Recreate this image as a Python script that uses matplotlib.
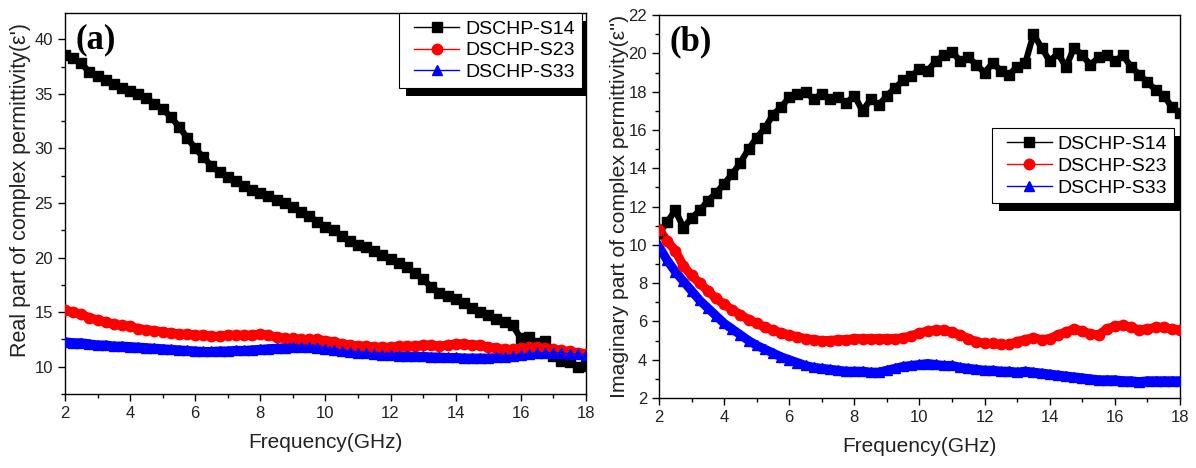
import numpy as np
import matplotlib
matplotlib.use("Agg")
import matplotlib.pyplot as plt
from matplotlib.patches import Rectangle
from matplotlib.lines import Line2D
from matplotlib.legend_handler import HandlerLine2D
from matplotlib.ticker import MultipleLocator

plt.rcParams["font.family"] = ["Liberation Sans", "DejaVu Sans"]

# frequency grid (GHz), 0.25 GHz step
freq = np.arange(2.0, 18.01, 0.25)

# (a) real part of permittivity
real_s14 = [38.6, 38.3, 37.8, 37.0, 36.6, 36.3, 35.9, 35.5, 35.3, 35.0, 34.6, 34.1, 33.6,
            32.9, 32.0, 31.0, 30.0, 29.2, 28.4, 27.8, 27.4, 27.0, 26.6, 26.2, 25.9, 25.6,
            25.3, 25.0, 24.6, 24.2, 23.8, 23.3, 22.8, 22.5, 22.0, 21.5, 21.2, 21.0, 20.6,
            20.2, 19.9, 19.5, 19.1, 18.6, 18.0, 17.3, 16.8, 16.5, 16.2, 15.8, 15.4, 15.0,
            14.7, 14.4, 14.1, 13.8, 12.6, 12.7, 12.2, 12.4, 11.0, 10.5, 10.4, 10.0, 10.1]
real_s23 = [15.2, 15.0, 14.8, 14.5, 14.3, 14.1, 13.9, 13.8, 13.7, 13.5, 13.4, 13.3, 13.2,
            13.1, 13.0, 13.0, 12.9, 12.9, 12.8, 12.8, 12.9, 12.9, 12.9, 12.9, 13.0, 12.9,
            12.7, 12.6, 12.6, 12.5, 12.5, 12.5, 12.4, 12.3, 12.1, 12.0, 11.9, 11.9, 11.8,
            11.8, 11.8, 11.9, 11.9, 11.9, 12.0, 12.0, 11.9, 12.0, 12.1, 12.1, 12.0, 12.0,
            11.8, 11.7, 11.6, 11.6, 11.7, 11.8, 11.8, 11.7, 11.6, 11.5, 11.4, 11.3, 11.2]
real_s33 = [12.3, 12.2, 12.2, 12.1, 12.0, 12.0, 11.9, 11.9, 11.85, 11.8, 11.75, 11.7, 11.65,
            11.6, 11.55, 11.5, 11.45, 11.4, 11.4, 11.45, 11.45, 11.5, 11.5, 11.55, 11.6,
            11.65, 11.7, 11.75, 11.8, 11.8, 11.8, 11.75, 11.65, 11.55, 11.45, 11.35, 11.3,
            11.25, 11.15, 11.1, 11.05, 11.0, 11.0, 10.95, 10.95, 10.9, 10.9, 10.85, 10.85,
            10.8, 10.8, 10.8, 10.8, 10.85, 10.9, 10.95, 11.05, 11.15, 11.25, 11.3, 11.3,
            11.25, 11.2, 11.15, 11.1]

# (b) imaginary part of permittivity
imag_s14 = [10.6, 11.2, 11.8, 10.9, 11.4, 11.8, 12.3, 12.7, 13.2, 13.7, 14.3, 15.0, 15.6,
            16.1, 16.8, 17.2, 17.7, 17.9, 18.0, 17.6, 17.9, 17.6, 17.7, 17.4, 17.8, 17.0,
            17.6, 17.3, 17.8, 18.2, 18.6, 18.8, 19.2, 19.1, 19.6, 19.9, 20.1, 19.6, 19.8,
            19.4, 19.0, 19.5, 19.1, 18.9, 19.3, 19.5, 21.0, 20.3, 19.6, 20.0, 19.3, 20.3,
            19.9, 19.4, 19.8, 19.9, 19.6, 19.9, 19.3, 18.9, 18.5, 18.1, 17.8, 17.2, 16.9]
imag_s23 = [10.8, 10.2, 9.7, 8.9, 8.4, 8.0, 7.6, 7.2, 6.9, 6.6, 6.35, 6.1, 5.9, 5.7, 5.55,
            5.4, 5.3, 5.2, 5.1, 5.05, 5.0, 5.0, 5.05, 5.05, 5.1, 5.1, 5.1, 5.1, 5.1, 5.1,
            5.15, 5.25, 5.4, 5.5, 5.55, 5.55, 5.45, 5.3, 5.1, 4.95, 4.85, 4.85, 4.8, 4.8,
            4.95, 5.05, 5.15, 5.05, 5.1, 5.3, 5.45, 5.6, 5.5, 5.35, 5.3, 5.6, 5.75, 5.8,
            5.7, 5.55, 5.6, 5.7, 5.7, 5.6, 5.55]
imag_s33 = [9.9, 9.2, 8.6, 8.1, 7.6, 7.1, 6.7, 6.3, 5.9, 5.6, 5.3, 5.0, 4.75, 4.55, 4.35,
            4.15, 4.0, 3.85, 3.7, 3.6, 3.55, 3.5, 3.45, 3.4, 3.4, 3.4, 3.35, 3.35, 3.45,
            3.55, 3.65, 3.7, 3.75, 3.8, 3.75, 3.7, 3.7, 3.6, 3.55, 3.5, 3.45, 3.45, 3.4,
            3.4, 3.35, 3.4, 3.35, 3.3, 3.25, 3.2, 3.15, 3.1, 3.05, 3.0, 2.95, 2.95, 2.95,
            2.9, 2.9, 2.85, 2.9, 2.9, 2.9, 2.9, 2.9]

labels = ["DSCHP-S14", "DSCHP-S23", "DSCHP-S33"]
colors = ["black", "red", "blue"]
markers = ["s", "o", "^"]
msizes = [6.5, 7.5, 7.5]
bandw = [4.5, 6.5, 6.5]   # dense measurement points merge into a band

fig = plt.figure(figsize=(11.96, 4.68), dpi=100)
ax1 = fig.add_axes([0.0543, 0.158, 0.4356, 0.814])
ax2 = fig.add_axes([0.551, 0.1496, 0.4356, 0.818])

txt = "#222222"


def style(ax, ylim, major, minor):
    ax.set_xlim(2, 18)
    ax.set_ylim(*ylim)
    ax.xaxis.set_major_locator(MultipleLocator(2))
    ax.xaxis.set_minor_locator(MultipleLocator(1))
    ax.yaxis.set_major_locator(MultipleLocator(major))
    ax.yaxis.set_minor_locator(MultipleLocator(minor))
    ax.tick_params(which="major", direction="out", length=5, width=1, labelsize=12,
                   labelcolor=txt, top=False, right=False)
    ax.tick_params(which="minor", direction="out", length=3, width=1,
                   top=False, right=False)
    for s in ax.spines.values():
        s.set_linewidth(1.0)
    ax.set_xlabel("Frequency(GHz)", fontsize=15, color=txt, labelpad=9)


def draw(ax, series):
    for ys, c, m, ms, bw in zip(series, colors, markers, msizes, bandw):
        ax.plot(freq, ys, color=c, linewidth=bw, solid_joinstyle="round", zorder=2)
        ax.plot(freq, ys, color=c, marker=m, markersize=ms, linewidth=1, zorder=3)


draw(ax1, [real_s14, real_s23, real_s33])
draw(ax2, [imag_s14, imag_s23, imag_s33])

style(ax1, (7.5, 42.4), 5, 2.5)
style(ax2, (2, 22), 2, 1)
ax1.set_ylabel("Real part of complex permittivity(\u03b5')", fontsize=15.5, color=txt)
ax1.yaxis.set_label_coords(-0.066, 0.535)
ax2.set_ylabel("Imaginary part of complex permittivity(\u03b5'')", fontsize=15.3, color=txt)
ax2.yaxis.set_label_coords(-0.057, 0.5)

ax1.text(0.02, 0.93, "(a)", transform=ax1.transAxes, fontsize=25, fontweight="bold",
         family="Liberation Serif", va="center", ha="left")
ax2.text(0.02, 0.93, "(b)", transform=ax2.transAxes, fontsize=25, fontweight="bold",
         family="Liberation Serif", va="center", ha="left")

handles = [Line2D([], [], color=c, marker=m, markersize=ms, linewidth=1)
           for c, m, ms in zip(colors, markers, msizes)]
leg_kw = dict(fontsize=14, frameon=True, fancybox=False, edgecolor="black",
              framealpha=1, handlelength=2.75, handletextpad=0.3, borderpad=0.35,
              labelspacing=0.22, borderaxespad=0,
              handler_map={Line2D: HandlerLine2D(xpad=0.42)})
leg1 = ax1.legend(handles, labels, loc="upper right", bbox_to_anchor=(0.992, 1.0), **leg_kw)
leg2 = ax2.legend(handles, labels, loc="upper right", bbox_to_anchor=(0.989, 0.704), **leg_kw)
for lg in (leg1, leg2):
    lg.get_frame().set_linewidth(0.8)
    lg.set_zorder(6)

# solid black drop shadow behind each legend
fig.canvas.draw()
W, H = fig.bbox.width, fig.bbox.height
for ax, lg in ((ax1, leg1), (ax2, leg2)):
    bb = lg.get_window_extent()
    r = Rectangle(((bb.x0 + 7) / W, (bb.y0 - 8) / H), bb.width / W, bb.height / H,
                  transform=fig.transFigure, facecolor="black", edgecolor="none",
                  zorder=5)
    ax.add_patch(r)

fig.savefig("out.png", dpi=100)
